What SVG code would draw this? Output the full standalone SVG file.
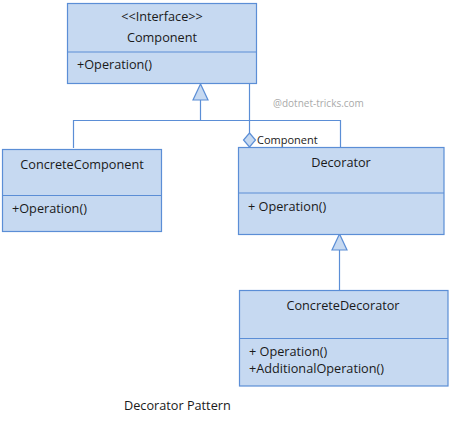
<svg xmlns="http://www.w3.org/2000/svg" width="453" height="424" viewBox="0 0 453 424">
<style>
.box{fill:#C6D9F1;stroke:#5B8ED6;stroke-width:1.2}
.ln{fill:none;stroke:#5B8ED6;stroke-width:1.2}
.tri{fill:#C6D9F1;stroke:#5B8ED6;stroke-width:1.2}
text{font-family:"Open Sans","Noto Sans",sans-serif;font-size:12.7px;fill:#1a1a1a}
.c{text-anchor:middle}
.s{font-size:11px}
.w{font-size:10px;fill:#aaaaaa}
</style>
<rect width="453" height="424" fill="#ffffff"/>
<g id="connectors">
<path class="ln" d="M200.5,100 V120.5 M73.5,148 V120.5 H340.5 V147"/>
<polygon class="tri" points="200.5,84 193,100 208,100"/>
<path class="ln" d="M249.5,83 V133"/>
<polygon class="tri" points="249.5,133 255.5,140 249.5,147 243.5,140"/>
<text class="s" x="257" y="144">Component</text>
<path class="ln" d="M339.5,250 V290.5"/>
<polygon class="tri" points="339.5,234 332,250 347,250"/>
</g>
<g id="Component">
<rect class="box" x="67.5" y="3.5" width="189" height="80"/>
<path class="ln" d="M67.5,52 H256.5"/>
<text class="c" x="162" y="21">&lt;&lt;Interface&gt;&gt;</text>
<text class="c" x="162" y="42">Component</text>
<text x="77" y="69">+Operation()</text>
</g>
<g id="ConcreteComponent">
<rect class="box" x="2.5" y="149.5" width="159" height="82"/>
<path class="ln" d="M2.5,195.5 H161.5"/>
<text class="c" x="82" y="169">ConcreteComponent</text>
<text x="12" y="213">+Operation()</text>
</g>
<g id="Decorator">
<rect class="box" x="238.5" y="147.5" width="205.5" height="87"/>
<path class="ln" d="M238.5,193 H444"/>
<text class="c" x="341" y="167">Decorator</text>
<text x="248" y="211">+ Operation()</text>
</g>
<g id="ConcreteDecorator">
<rect class="box" x="239.5" y="290.5" width="208.5" height="95.5"/>
<path class="ln" d="M239.5,338.5 H448"/>
<text class="c" x="343" y="310">ConcreteDecorator</text>
<text x="249" y="356">+ Operation()</text>
<text x="249" y="373">+AdditionalOperation()</text>
</g>
<text class="w" x="273" y="107">@dotnet-tricks.com</text>
<text x="124" y="410">Decorator Pattern</text>
</svg>
